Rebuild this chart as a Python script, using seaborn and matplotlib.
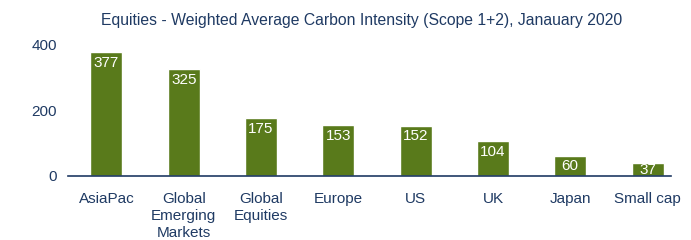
import numpy as np
import pandas as pd
import matplotlib
matplotlib.use('Agg')
import matplotlib.pyplot as plt
import seaborn as sb

regions = ['AsiaPac', 'Global\nEmerging\nMarkets', 'Global\nEquities', 'Europe',
           'US', 'UK', 'Japan', 'Small cap']
intensity = [377, 325, 175, 153, 152, 104, 60, 37]
yticks = [0, 200, 400]

df = pd.DataFrame({'region': regions, 'intensity': intensity})

sb.set_style('white')
plt.rcParams['font.family'] = ['Liberation Sans', 'DejaVu Sans']

navy = '#1f3a63'
green = '#597a1b'

fig = plt.figure(figsize=(6.91, 2.40), dpi=100)
# axes spans from category -0.5 to 7.5
ax = fig.add_axes([67.8 / 691, 1 - 175.5 / 240, 618.4 / 691, 131 / 240])

sb.barplot(data=df, x='region', y='intensity', color=green, width=0.414,
           saturation=1, ax=ax)

for i, v in enumerate(intensity):
    # short bars: label squeezed to the top so it stays inside
    off = -2.5 if v > 50 else 0
    ax.annotate(str(v), (i, v), xytext=(0, off), textcoords='offset points',
                ha='center', va='top', color='white', fontsize=11)

ax.set_ylim(0, 400)
ax.set_yticks(yticks)
ax.set_xlim(-0.5, len(regions) - 0.5)
ax.set_xlabel('')
ax.set_ylabel('')
ax.tick_params(axis='both', length=0, labelsize=11, colors=navy)
ax.tick_params(axis='x', pad=12)
ax.tick_params(axis='y', pad=8)
for lbl in ax.get_xticklabels():
    lbl.set_linespacing(1.25)
for s in ['top', 'right', 'left']:
    ax.spines[s].set_visible(False)
ax.spines['bottom'].set_color(navy)
ax.spines['bottom'].set_linewidth(1.2)
ax.spines['bottom'].set_bounds(-0.5, 7.3)

fig.text(0.524, 0.9125, 'Equities - Weighted Average Carbon Intensity (Scope 1+2), Janauary 2020',
         ha='center', va='center', color=navy, fontsize=11.3)

fig.savefig('out.png', dpi=100)
